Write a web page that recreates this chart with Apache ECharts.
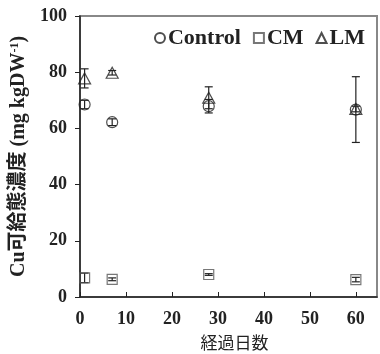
<!DOCTYPE html>
<html><head><meta charset="utf-8">
<script src="https://cdn.jsdelivr.net/npm/echarts@6/dist/echarts.min.js"></script>
<style>html,body{margin:0;padding:0;background:#fff}#c{width:380px;height:354px}</style>
</head><body><div id="c"></div>
<script>
const days = [1, 7, 28, 60];
const controlVals = [68.5, 62.2, 67.9, 66.7];
const controlErr = [1.5, 1.2, 2.4, 11.7];
const cmVals = [6.8, 6.3, 8.0, 6.2];
const cmErr = [1.7, 0.5, 0.3, 0.8];
const lmVals = [77.8, 79.8, 70.9, 66.9];
const lmErr = [3.4, 0.8, 3.9, 1.0];
const xTicks = [0, 10, 20, 30, 40, 50, 60];
const yTicks = [0, 20, 40, 60, 80, 100];

const serif = '"Liberation Serif","Times New Roman",serif';
const chart = echarts.init(document.getElementById('c'));

function pts(vals){ return days.map((d,i)=>[d, vals[i]]); }
function errData(vals, errs){ return days.map((d,i)=>[d, vals[i]-errs[i], vals[i]+errs[i]]); }
function errSeries(vals, errs){
  return {
    type:'custom', silent:true, z:1,
    data: errData(vals, errs),
    encode:{x:0, y:[1,2]},
    renderItem: function(params, api){
      const x = api.value(0);
      const lo = api.coord([x, api.value(1)]);
      const hi = api.coord([x, api.value(2)]);
      const w = 4;
      const st = {stroke:'#222', lineWidth:1.2};
      return {type:'group', children:[
        {type:'line', shape:{x1:lo[0], y1:lo[1], x2:hi[0], y2:hi[1]}, style:st},
        {type:'line', shape:{x1:lo[0]-w, y1:lo[1], x2:lo[0]+w, y2:lo[1]}, style:st},
        {type:'line', shape:{x1:hi[0]-w, y1:hi[1], x2:hi[0]+w, y2:hi[1]}, style:st}
      ]};
    }
  };
}
const markStyle = (c)=>({color:'rgba(0,0,0,0)', borderColor:c, borderWidth:1.2});

chart.setOption({
  animation:false,
  grid:{left:80, top:16, right:3, bottom:57, outerBoundsMode:'none', containLabel:false, show:true, borderColor:'#888', borderWidth:2},
  legend:{
    right:10, top:22, itemGap:12, itemWidth:10, itemHeight:10,
    textStyle:{fontFamily:serif, fontWeight:'bold', fontSize:22, color:'#222', padding:[0,0,0,-2]},
    data:['Control','CM','LM']
  },
  xAxis:{
    type:'value', min:0, max:64.6, interval:10,
    name:'経過日数', nameLocation:'middle', nameGap:37,
    nameTextStyle:{fontFamily:'"Noto Sans CJK JP",sans-serif', fontSize:17, color:'#222', padding:[0,0,0,12]},
    axisLine:{lineStyle:{color:'#222', width:1.5}},
    axisTick:{inside:true, length:5, lineStyle:{color:'#222'}, customValues:xTicks},
    axisLabel:{customValues:xTicks, margin:13, fontFamily:serif, fontWeight:'bold', fontSize:18, color:'#222'},
    splitLine:{show:false}
  },
  yAxis:{
    type:'value', min:0, max:100, interval:20,
    name:'{a|Cu可給態濃度 (mg kgDW}{s|-1}{a|)}', nameLocation:'middle', nameGap:50,
    nameTextStyle:{rich:{
      a:{fontFamily:serif+',"Noto Sans CJK JP"', fontWeight:'bold', fontSize:20, color:'#222'},
      s:{fontFamily:serif, fontWeight:'bold', fontSize:12, color:'#222', verticalAlign:'top', padding:[0,0,9,0]}
    }},
    axisLine:{show:true, lineStyle:{color:'#222', width:1.5}},
    axisTick:{show:true, length:5, lineStyle:{color:'#222'}},
    axisLabel:{customValues:yTicks, margin:13, fontFamily:serif, fontWeight:'bold', fontSize:18, color:'#222'},
    splitLine:{show:false}
  },
  series:[
    errSeries(controlVals, controlErr),
    errSeries(cmVals, cmErr),
    errSeries(lmVals, lmErr),
    {name:'Control', type:'scatter', z:3, symbol:'circle', symbolSize:11, data:pts(controlVals), itemStyle:markStyle('#222')},
    {name:'CM', type:'scatter', z:3, symbol:'rect', symbolSize:10, data:pts(cmVals), itemStyle:markStyle('#555')},
    {name:'LM', type:'scatter', z:3, symbol:'triangle', symbolSize:[12,11], data:pts(lmVals), itemStyle:markStyle('#222')}
  ]
});
</script></body></html>
